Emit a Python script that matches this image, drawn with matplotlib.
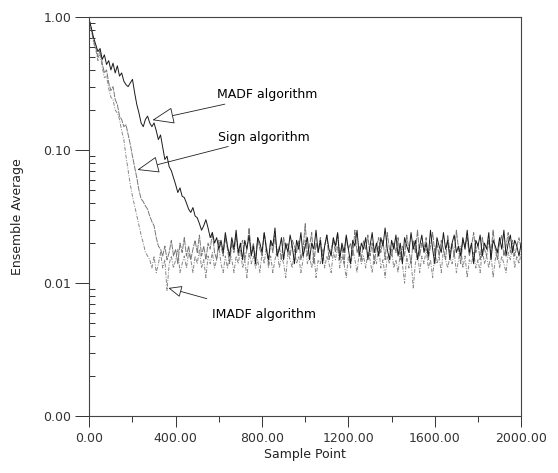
import matplotlib.pyplot as plt
import numpy as np
from matplotlib.ticker import FixedLocator, FixedFormatter, LogLocator, NullFormatter

# sample points (every 10 samples)
samples = np.arange(0, 2001, 10)

madf = [0.95, 0.82, 0.70, 0.62, 0.55, 0.58, 0.48, 0.52, 0.44, 0.47,
        0.40, 0.45, 0.38, 0.43, 0.36, 0.38, 0.33, 0.31, 0.30, 0.32,
        0.34, 0.27, 0.22, 0.19, 0.16, 0.15, 0.17, 0.18, 0.16, 0.15,
        0.16, 0.14, 0.12, 0.13, 0.105, 0.085, 0.09, 0.075, 0.07, 0.062,
        0.055, 0.048, 0.052, 0.045, 0.044, 0.040, 0.036, 0.034, 0.037, 0.032,
        0.031, 0.028, 0.025, 0.027, 0.030, 0.026, 0.022, 0.024, 0.020, 0.022,
        0.018,
        0.021, 0.017, 0.024, 0.019, 0.016, 0.022, 0.018, 0.025, 0.017, 0.020,
        0.015, 0.021, 0.018, 0.023, 0.016, 0.019, 0.014, 0.022, 0.020, 0.017,
        0.024, 0.018, 0.015, 0.021, 0.019, 0.026, 0.016, 0.018, 0.022, 0.015,
        0.020, 0.017, 0.023, 0.019, 0.014, 0.021, 0.018, 0.024, 0.016, 0.019,
        0.022, 0.015, 0.020, 0.018, 0.025, 0.017, 0.021, 0.014, 0.019, 0.023,
        0.018, 0.016, 0.022, 0.019, 0.024, 0.015, 0.020, 0.017, 0.023, 0.018,
        0.014, 0.021, 0.019, 0.025, 0.016, 0.020, 0.018, 0.022, 0.015, 0.019,
        0.024, 0.017, 0.020, 0.016, 0.022, 0.019, 0.026, 0.018, 0.015, 0.021,
        0.018, 0.023, 0.016, 0.020, 0.014, 0.022, 0.019, 0.017, 0.024, 0.018,
        0.021, 0.015, 0.019, 0.023, 0.017, 0.020, 0.016, 0.025, 0.018, 0.014,
        0.022, 0.019, 0.017, 0.024, 0.018, 0.021, 0.015, 0.020, 0.023, 0.017,
        0.019, 0.016, 0.022, 0.018, 0.025, 0.017, 0.020, 0.014, 0.021, 0.019,
        0.023, 0.016, 0.020, 0.018, 0.024, 0.015, 0.021, 0.019, 0.017, 0.022,
        0.018, 0.025, 0.016, 0.020, 0.023, 0.017, 0.021, 0.019, 0.016, 0.020]

sign = [0.95, 0.80, 0.66, 0.60, 0.50, 0.56, 0.45, 0.38, 0.40, 0.32,
        0.28, 0.30, 0.24, 0.22, 0.18, 0.17, 0.15, 0.155, 0.13, 0.11,
        0.09, 0.075, 0.062, 0.05, 0.043, 0.041, 0.038, 0.036, 0.032, 0.029,
        0.027, 0.022, 0.019, 0.018, 0.016,
        0.019, 0.015, 0.017, 0.021, 0.016, 0.018, 0.014, 0.020, 0.017, 0.022,
        0.016, 0.019, 0.015, 0.018, 0.021, 0.017, 0.023, 0.016, 0.019, 0.015,
        0.020, 0.018, 0.024, 0.017, 0.015, 0.021, 0.019, 0.016, 0.022, 0.018,
        0.014, 0.020, 0.017, 0.023, 0.016, 0.019, 0.021, 0.015, 0.018, 0.026,
        0.017, 0.020, 0.015, 0.022, 0.018, 0.016, 0.024, 0.019, 0.014, 0.021,
        0.017, 0.023, 0.016, 0.019, 0.015, 0.022, 0.018, 0.020, 0.016, 0.021,
        0.019, 0.017, 0.021, 0.015, 0.018, 0.028, 0.016, 0.019, 0.024, 0.014,
        0.020, 0.017, 0.022, 0.016, 0.019, 0.023, 0.015, 0.018, 0.021, 0.017,
        0.024, 0.016, 0.019, 0.014, 0.022, 0.018, 0.020, 0.016, 0.025, 0.017,
        0.019, 0.015, 0.021, 0.018, 0.023, 0.016, 0.020, 0.014, 0.019, 0.022,
        0.017, 0.021, 0.015, 0.024, 0.018, 0.016, 0.020, 0.017, 0.022, 0.015,
        0.019, 0.016, 0.023, 0.018, 0.014, 0.021, 0.017, 0.025, 0.016, 0.020,
        0.018, 0.022, 0.015, 0.019, 0.024, 0.017, 0.020, 0.016, 0.021, 0.018,
        0.015, 0.023, 0.017, 0.020, 0.016, 0.025, 0.018, 0.014, 0.021, 0.019,
        0.022, 0.016, 0.019, 0.024, 0.017, 0.020, 0.015, 0.022, 0.018, 0.016,
        0.021, 0.017, 0.025, 0.018, 0.015, 0.020, 0.023, 0.016, 0.019, 0.024,
        0.017, 0.021, 0.016, 0.019, 0.022, 0.018]

imadf = [0.95, 0.78, 0.64, 0.57, 0.47, 0.52, 0.42, 0.35, 0.36, 0.29,
         0.25, 0.24, 0.20, 0.19, 0.17, 0.14, 0.12, 0.09, 0.07, 0.055,
         0.045, 0.038, 0.032, 0.027, 0.023, 0.020, 0.017, 0.016,
         0.015, 0.013, 0.016, 0.012, 0.014, 0.017, 0.013, 0.015, 0.0088, 0.014,
         0.016, 0.013, 0.015, 0.018, 0.012, 0.014, 0.016, 0.013, 0.017, 0.015,
         0.012, 0.016, 0.014, 0.018, 0.013, 0.015, 0.011, 0.016, 0.014, 0.017,
         0.013, 0.015, 0.019, 0.014, 0.012, 0.016, 0.013, 0.017, 0.015, 0.012,
         0.016, 0.014, 0.018, 0.013, 0.015, 0.011, 0.017, 0.014, 0.016, 0.013,
         0.015, 0.012, 0.017, 0.014, 0.019, 0.013, 0.016, 0.012, 0.015, 0.018,
         0.013, 0.016, 0.014, 0.011, 0.017, 0.015, 0.013, 0.018, 0.014, 0.016,
         0.012, 0.015, 0.021, 0.014, 0.016, 0.013, 0.017, 0.011, 0.015, 0.014,
         0.018, 0.013, 0.016, 0.014, 0.012, 0.017, 0.015, 0.019, 0.013, 0.016,
         0.014, 0.011, 0.016, 0.013, 0.018, 0.015, 0.012, 0.017, 0.014, 0.016,
         0.013, 0.017, 0.015, 0.012, 0.016, 0.014, 0.019, 0.013, 0.015, 0.011,
         0.016, 0.014, 0.018, 0.013, 0.015, 0.012, 0.017, 0.014, 0.010, 0.016,
         0.013, 0.015, 0.0092, 0.014, 0.017, 0.012, 0.016, 0.014, 0.018, 0.013,
         0.015, 0.011, 0.017, 0.014, 0.016, 0.012, 0.018, 0.015, 0.013, 0.016,
         0.014, 0.017, 0.012, 0.015, 0.019, 0.013, 0.016, 0.011, 0.015, 0.014,
         0.017, 0.013, 0.015, 0.012, 0.018, 0.014, 0.016, 0.013, 0.017, 0.011,
         0.015, 0.018, 0.013, 0.016, 0.014, 0.012, 0.017, 0.015, 0.019, 0.013,
         0.016, 0.014, 0.017]

xticks = [0, 400, 800, 1200, 1600, 2000]
xticklabels = ['0.00', '400.00', '800.00', '1200.00', '1600.00', '2000.00']
yticks = [0.001, 0.01, 0.1, 1.0]
yticklabels = ['0.00', '0.01', '0.10', '1.00']

plt.rcParams['font.family'] = 'DejaVu Sans'
fig = plt.figure(figsize=(5.58, 4.73), dpi=100)
ax = fig.add_axes([0.160, 0.120, 0.774, 0.844])

ax.plot(samples, imadf, color='#888888', lw=0.7, dashes=(4, 1.5, 1, 1.5))
ax.plot(samples, sign, color='#777777', lw=0.7, dashes=(6, 1))
ax.plot(samples, madf, color='#1a1a1a', lw=0.7)

ax.set_yscale('log')
ax.set_xlim(0, 2000)
ax.set_ylim(0.001, 1.0)

ax.xaxis.set_major_locator(FixedLocator(xticks))
ax.xaxis.set_major_formatter(FixedFormatter(xticklabels))
ax.xaxis.set_minor_locator(FixedLocator([200, 600, 1000, 1400, 1800]))
ax.yaxis.set_major_locator(FixedLocator(yticks))
ax.yaxis.set_major_formatter(FixedFormatter(yticklabels))
ax.yaxis.set_minor_locator(LogLocator(base=10, subs=np.arange(2, 10)))
ax.yaxis.set_minor_formatter(NullFormatter())

ax.tick_params(axis='x', which='major', direction='out', length=8, width=0.7, labelsize=9, colors='#333333')
ax.tick_params(axis='x', which='minor', direction='out', length=4, width=0.7, colors='#333333')
ax.tick_params(axis='y', which='major', direction='out', length=10, width=0.7, labelsize=9, pad=3, colors='#333333')
ax.tick_params(axis='y', which='minor', direction='in', length=4, width=0.7, colors='#333333')

for s in ax.spines.values():
    s.set_linewidth(0.8)
    s.set_color('#444444')

ax.set_xlabel('Sample Point', fontsize=9, color='#222222', labelpad=2)
ax.set_ylabel('Ensemble Average', fontsize=9, color='#222222', labelpad=14)

arrow = dict(arrowstyle='-|>,head_length=1.0,head_width=0.38', fc='white', ec='#222222',
             lw=0.6, shrinkA=0, shrinkB=0, mutation_scale=14)
ax.annotate('MADF algorithm', xy=(292, 0.168), xytext=(590, 0.26),
            fontsize=9, va='center', ha='left', arrowprops=arrow)
ax.annotate('Sign algorithm', xy=(222, 0.071), xytext=(598, 0.125),
            fontsize=9, va='center', ha='left', arrowprops=arrow)
ax.annotate('IMADF algorithm', xy=(366, 0.0092), xytext=(570, 0.0058),
            fontsize=9, va='center', ha='left',
            arrowprops=dict(arrowstyle='-|>,head_length=0.7,head_width=0.3', fc='white',
                            ec='#222222', lw=0.6, shrinkA=18, shrinkB=0, mutation_scale=12))

fig.savefig('out.png', dpi=100)
